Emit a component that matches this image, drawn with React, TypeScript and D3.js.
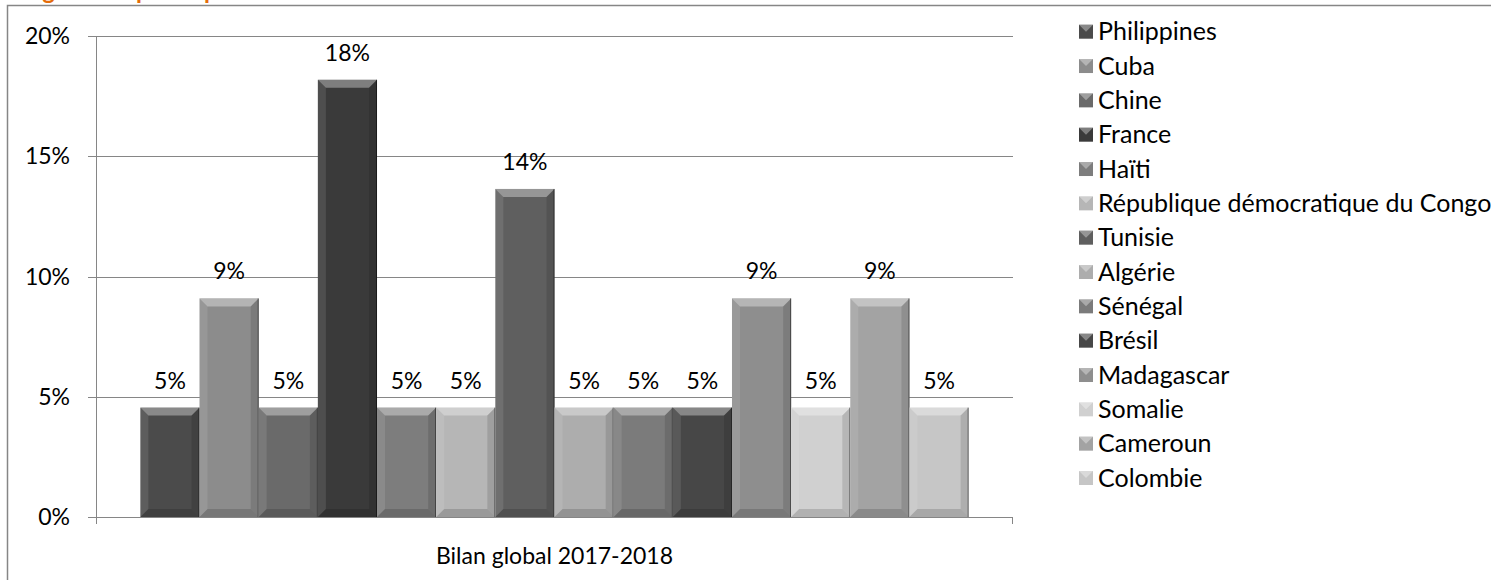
import React from "react";
import * as d3 from "d3";

// values (share of total)
const countries = [
	"Philippines",
	"Cuba",
	"Chine",
	"France",
	"Haïti",
	"République démocratique du Congo",
	"Tunisie",
	"Algérie",
	"Sénégal",
	"Brésil",
	"Madagascar",
	"Somalie",
	"Cameroun",
	"Colombie",
];
const shares = [
	0.0455, 0.0909, 0.0455, 0.1818, 0.0455, 0.0455, 0.1364, 0.0455, 0.0455,
	0.0455, 0.0909, 0.0455, 0.0909, 0.0455,
];
const grays = [
	"#4b4b4b", "#8c8c8c", "#6a6a6a", "#3a3a3a", "#7d7d7d", "#b6b6b6", "#5f5f5f",
	"#adadad", "#7b7b7b", "#474747", "#8e8e8e", "#d0d0d0", "#a3a3a3", "#c6c6c6",
];
const yTicks = [0, 0.05, 0.1, 0.15, 0.2];
const categoryLabel = "Bilan global 2017-2018";
const titleText = "Origine des participants";

const W = 1491;
const H = 580;
const font = "Lato, 'DejaVu Sans', sans-serif";

export default function App() {
	const left = 96;
	const right = 1013;
	const top = 36;
	const bottom = 517;

	const x = d3
		.scaleBand<string>()
		.domain(countries)
		.range([left, right])
		.paddingInner(0)
		.paddingOuter(0.75);
	const y = d3.scaleLinear().domain([0, 0.2]).range([bottom, top]);
	const pct = d3.format(".0%");
	const bw = x.bandwidth();
	const bev = 8;

	const legendY = d3
		.scalePoint<string>()
		.domain(countries)
		.range([31.7, 478]);

	return (
		<div style={{ position: "absolute", left: 0, top: 0 }}>
			<svg width={W} height={H} style={{ display: "block", background: "#fff" }}>
				<text
					x={8}
					y={-1}
					fill="#e46c0a"
					fontFamily={font}
					fontWeight="bold"
					fontSize={24}
				>
					{titleText}
				</text>
				<rect
					x={7.5}
					y={5.5}
					width={W}
					height={H}
					fill="none"
					stroke="#868686"
					strokeWidth={1.5}
				/>

				{/* gridlines + y ticks */}
				{yTicks.map((t) => (
					<g key={t}>
						<line
							x1={left - 8}
							x2={right}
							y1={Math.round(y(t)) + 0.5}
							y2={Math.round(y(t)) + 0.5}
							stroke="#868686"
							strokeWidth={1}
						/>
						<text
							x={70}
							y={y(t) + 8}
							textAnchor="end"
							fontFamily={font}
							fontSize={23}
							fill="#000"
						>
							{pct(t)}
						</text>
					</g>
				))}
				<line x1={left + 0.5} x2={left + 0.5} y1={top} y2={bottom + 7} stroke="#868686" />
				<line x1={right - 0.5} x2={right - 0.5} y1={bottom} y2={bottom + 7} stroke="#868686" />

				{/* bars */}
				{countries.map((c, i) => {
					const x0 = x(c) as number;
					const y0 = y(shares[i]);
					const h = bottom - y0;
					const x1 = x0 + bw;
					return (
						<g key={c}>
							<rect x={x0} y={y0} width={bw} height={h} fill={grays[i]} />
							<polygon
								points={`${x0},${y0} ${x1},${y0} ${x1 - bev},${y0 + bev} ${x0 + bev},${y0 + bev}`}
								fill="#fff"
								opacity={0.35}
							/>
							<polygon
								points={`${x0},${y0} ${x0 + bev},${y0 + bev} ${x0 + bev},${bottom - bev} ${x0},${bottom}`}
								fill="#fff"
								opacity={0.1}
							/>
							<polygon
								points={`${x1},${y0} ${x1 - bev},${y0 + bev} ${x1 - bev},${bottom - bev} ${x1},${bottom}`}
								fill="#000"
								opacity={0.12}
							/>
							<polygon
								points={`${x0},${bottom} ${x0 + bev},${bottom - bev} ${x1 - bev},${bottom - bev} ${x1},${bottom}`}
								fill="#000"
								opacity={0.15}
							/>
							<line x1={x1 - 0.5} x2={x1 - 0.5} y1={y0} y2={bottom} stroke="#000" strokeOpacity={0.45} />
							<text
								x={x0 + bw / 2}
								y={y0 - 19}
								textAnchor="middle"
								fontFamily={font}
								fontSize={23}
								fill="#000"
							>
								{pct(shares[i])}
							</text>
						</g>
					);
				})}

				<text
					x={(left + right) / 2}
					y={564}
					textAnchor="middle"
					fontFamily={font}
					fontSize={23}
					fill="#000"
				>
					{categoryLabel}
				</text>

				{/* legend */}
				{countries.map((c, i) => {
					const cy = legendY(c) as number;
					const sx = 1079;
					const s = 14;
					return (
						<g key={c}>
							<rect x={sx} y={cy - s / 2} width={s} height={s} fill={grays[i]} />
							<polygon
								points={`${sx},${cy - s / 2} ${sx + s},${cy - s / 2} ${sx + s / 2},${cy}`}
								fill="#fff"
								opacity={0.35}
							/>
							<text
								x={1098}
								y={cy + 8.5}
								fontFamily={font}
								fontSize={25}
								fill="#000"
							>
								{c}
							</text>
						</g>
					);
				})}
			</svg>
		</div>
	);
}
